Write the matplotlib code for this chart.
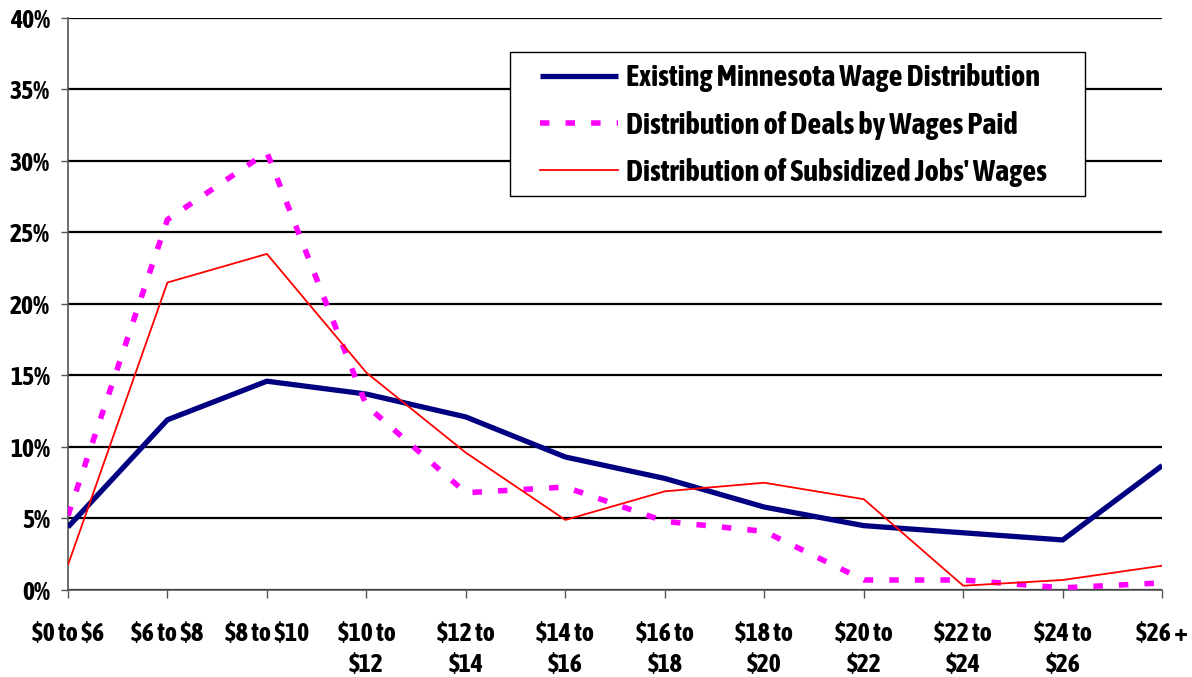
import matplotlib
matplotlib.use("Agg")
import matplotlib.pyplot as plt
from matplotlib import font_manager
from matplotlib.patches import Rectangle
from matplotlib.ticker import FuncFormatter


def is_bold(w):
    if isinstance(w, str):
        return w in ("bold", "heavy", "extra bold", "black", "demibold", "semibold")
    return w >= 600


# Narrow bold face like the original; pick what is installed
fonts = font_manager.fontManager.ttflist
narrow_bold = sorted({f.name for f in fonts
                      if ("Narrow" in f.name or "Condensed" in f.name) and is_bold(f.weight)})
narrow_any = sorted({f.name for f in fonts if "Narrow" in f.name or "Condensed" in f.name})
if narrow_bold:
    family = narrow_bold[0]
elif narrow_any:
    family = narrow_any[0]
else:
    family = "Liberation Sans"
plt.rcParams["font.family"] = [family, "DejaVu Sans"]
plt.rcParams["font.weight"] = "bold"
plt.rcParams["text.parse_math"] = False
narrow = bool(narrow_any)
TICK_FS = 18.5 if narrow else 13
LEG_FS = 21.9 if narrow else 16

categories = ["$0 to $6", "$6 to $8", "$8 to $10", "$10 to\n$12", "$12 to\n$14",
              "$14 to\n$16", "$16 to\n$18", "$18 to\n$20", "$20 to\n$22",
              "$22 to\n$24", "$24 to\n$26", "$26 +"]

existing_mn = [4.4, 11.9, 14.6, 13.7, 12.1, 9.3, 7.8, 5.8, 4.5, 4.0, 3.5, 8.7]
deals = [5.2, 25.9, 30.6, 12.9, 6.8, 7.2, 4.8, 4.1, 0.7, 0.7, 0.15, 0.5]
subsidized = [1.75, 21.5, 23.5, 15.2, 9.6, 4.9, 6.9, 7.5, 6.35, 0.3, 0.7, 1.7]

labels = ["Existing Minnesota Wage Distribution",
          "Distribution of Deals by Wages Paid",
          "Distribution of Subsidized Jobs' Wages"]

fig = plt.figure(figsize=(11.92, 6.77), dpi=100)
ax = fig.add_axes([0.057, 0.1285, 0.918, 0.845])

x = range(len(categories))
ax.plot(x, existing_mn, color="#000080", linewidth=3.8, label=labels[0],
        solid_capstyle="butt", zorder=3)
ax.plot(x, deals, color="#FF00FF", linewidth=4.0, dashes=(1.7, 2.9),
        label=labels[1], zorder=3)
ax.plot(x, subsidized, color="#FF0000", linewidth=1.3, label=labels[2], zorder=3)

ax.set_xlim(0, len(categories) - 1)
ax.set_ylim(0, 40)
ax.set_yticks(range(0, 41, 5))
ax.yaxis.set_major_formatter(FuncFormatter(lambda v, p: f"{int(v)}%"))
ax.set_xticks(list(x))
ax.set_xticklabels(categories, linespacing=1.3)

ax.grid(axis="y", color="black", linewidth=1.6)
ax.set_axisbelow(True)
for s in ["top", "right"]:
    ax.spines[s].set_visible(False)
for s in ["left", "bottom"]:
    ax.spines[s].set_color("#555555")
    ax.spines[s].set_linewidth(1.2)

ax.tick_params(axis="x", length=6, width=1, color="#555555", labelsize=TICK_FS, pad=16)
ax.tick_params(axis="y", length=5, width=1, color="#555555", labelsize=TICK_FS, pad=8)
for t in ax.get_xticklabels() + ax.get_yticklabels():
    t.set_fontweight("bold")

# legend box drawn separately so the padding matches the original
box = Rectangle((0.404, 0.6888), 0.5256, 0.2517, transform=ax.transAxes,
                facecolor="white", edgecolor="black", linewidth=1.0, zorder=4)
ax.add_patch(box)
leg = ax.legend(loc="upper left", bbox_to_anchor=(0.4314, 0.9205), fontsize=LEG_FS,
                frameon=False, handlelength=2.55, handletextpad=0.27,
                labelspacing=0.6, borderpad=0, borderaxespad=0)
leg.set_zorder(5)
for t in leg.get_texts():
    t.set_fontweight("bold")

fig.savefig("out.png", dpi=100)
